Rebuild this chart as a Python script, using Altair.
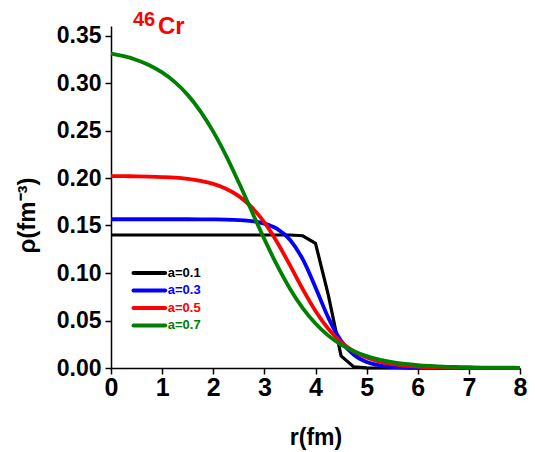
import altair as alt
import pandas as pd

# ---- data ----
r = [0.0, 0.25, 0.5, 0.75, 1.0, 1.25, 1.5, 1.75, 2.0, 2.25, 2.5, 2.75, 3.0, 3.25, 3.5, 3.75,
     4.0, 4.25, 4.5, 4.75, 5.0, 5.25, 5.5, 5.75, 6.0, 6.25, 6.5, 6.75, 7.0, 7.25, 7.5, 7.75, 8.0]

rho_a01 = [0.140, 0.140, 0.140, 0.140, 0.140, 0.140, 0.140, 0.140, 0.140, 0.140, 0.140, 0.140,
           0.140, 0.140, 0.140, 0.1392, 0.1312, 0.0770, 0.0128, 0.0012, 0.0001,
           0, 0, 0, 0, 0, 0, 0, 0, 0, 0, 0, 0]
rho_a03 = [0.1566, 0.1566, 0.1566, 0.1566, 0.1566, 0.1566, 0.1566, 0.1565, 0.1564, 0.1562,
           0.1557, 0.1546, 0.1520, 0.1464, 0.1350, 0.1145, 0.0848, 0.0531, 0.0286, 0.0139,
           0.0063, 0.0028, 0.0012, 0.0005, 0.0002, 0.0001, 0, 0, 0, 0, 0, 0, 0]
rho_a05 = [0.2020, 0.2019, 0.2018, 0.2015, 0.2010, 0.2003, 0.1990, 0.1970, 0.1938, 0.1887,
           0.1809, 0.1693, 0.1532, 0.1324, 0.1082, 0.0831, 0.0601, 0.0413, 0.0272, 0.0175,
           0.0110, 0.0068, 0.0042, 0.0026, 0.0016, 0.0010, 0.0006, 0.0004, 0.0002, 0.0001,
           0.0001, 0.0001, 0.0000]
rho_a07 = [0.3310, 0.3282, 0.3242, 0.3187, 0.3111, 0.3009, 0.2875, 0.2702, 0.2488, 0.2236,
           0.1952, 0.1653, 0.1356, 0.1079, 0.0835, 0.0631, 0.0468, 0.0341, 0.0246, 0.0176,
           0.0125, 0.0089, 0.0063, 0.0044, 0.0031, 0.0022, 0.0015, 0.0011, 0.0008, 0.0005,
           0.0004, 0.0003, 0.0002]

series_labels = ["a=0.1", "a=0.3", "a=0.5", "a=0.7"]
series_colors = ["#000000", "#0000ff", "#ff0000", "#008000"]
x_ticks = [0, 0.5, 1, 1.5, 2, 2.5, 3, 3.5, 4, 4.5, 5, 5.5, 6, 6.5, 7, 7.5, 8]
y_ticks = [0.0, 0.025, 0.05, 0.075, 0.1, 0.125, 0.15, 0.175, 0.2, 0.225, 0.25, 0.275,
           0.3, 0.325, 0.35]

rows = []
for lab, vals in zip(series_labels, [rho_a01, rho_a03, rho_a05, rho_a07]):
    for ri, v in zip(r, vals):
        rows.append({"r": ri, "rho": v, "series": lab})
df = pd.DataFrame(rows)

FONT = "Liberation Sans"

x_scale = alt.Scale(domain=[0, 8], nice=False, zero=False)
y_scale = alt.Scale(domain=[0, 0.36], nice=False)
color_scale = alt.Scale(domain=series_labels, range=series_colors)

x_axis = alt.Axis(
    values=x_ticks, title="r(fm)", grid=False,
    labelExpr="datum.value % 1 == 0 ? datum.label : ''",
    tickSize={"condition": {"test": "datum.value % 1 == 0", "value": 6}, "value": 3},
    labelFont=FONT, labelFontSize=25, labelFontWeight="bold", labelColor="black",
    labelPadding=1, labelOverlap=False, labelFlush=False,
    titleFont=FONT, titleFontSize=23, titleFontWeight="bold", titleColor="black",
    titlePadding=26, domainColor="black", domainWidth=1.5, tickColor="black", tickWidth=1.5,
)
y_axis = alt.Axis(
    values=y_ticks, title="ρ(fm⁻³)", grid=False, format=".2f",
    labelExpr="abs(datum.value*20 - round(datum.value*20)) < 0.001 ? datum.label : ''",
    tickSize={"condition": {"test": "abs(datum.value*20 - round(datum.value*20)) < 0.001",
                            "value": 6}, "value": 3},
    labelFont=FONT, labelFontSize=23, labelFontWeight="bold", labelColor="black",
    labelPadding=4, labelOverlap=False, labelFlush=False,
    titleFont=FONT, titleFontSize=24, titleFontWeight="bold", titleColor="black",
    titleX=-84, titleY=189, titleBaseline="middle", titleAngle=270,
    domainColor="black", domainWidth=1.5, tickColor="black", tickWidth=1.5,
)

base = alt.Chart(df).encode(
    x=alt.X("r:Q", scale=x_scale, axis=x_axis),
    y=alt.Y("rho:Q", scale=y_scale, axis=y_axis),
    color=alt.Color("series:N", scale=color_scale, legend=None),
    detail="series:N",
)
black_line = base.transform_filter("datum.series == 'a=0.1'").mark_line(
    strokeWidth=3.2, interpolate="linear", strokeJoin="miter")
smooth_lines = base.transform_filter("datum.series != 'a=0.1'").mark_line(
    strokeWidth=3.8, interpolate="monotone")

# legend drawn inside the plot
leg = pd.DataFrame({"series": series_labels})
leg["ly"] = [0.100 - i * 0.0184 for i in range(len(series_labels))]
leg["lx1"] = 0.44
leg["lx2"] = 1.06
leg["tx"] = 1.11
leg_lines = alt.Chart(leg).mark_rule(strokeWidth=4, strokeCap="round").encode(
    x=alt.X("lx1:Q", scale=x_scale), x2="lx2:Q",
    y=alt.Y("ly:Q", scale=y_scale),
    color=alt.Color("series:N", scale=color_scale, legend=None),
)
leg_text = alt.Chart(leg).mark_text(
    align="left", baseline="middle", font=FONT, fontSize=13, fontWeight="bold"
).encode(
    x=alt.X("tx:Q", scale=x_scale), y=alt.Y("ly:Q", scale=y_scale), text="series:N",
    color=alt.Color("series:N", scale=color_scale, legend=None),
)

# title "46Cr"
t46 = alt.Chart(pd.DataFrame({"t": ["46"]})).mark_text(
    align="left", baseline="alphabetic", font=FONT, fontSize=20, fontWeight="bold",
    color="#ff0000").encode(x=alt.value(22), y=alt.value(0), text="t:N")
tcr = alt.Chart(pd.DataFrame({"t": ["Cr"]})).mark_text(
    align="left", baseline="alphabetic", font=FONT, fontSize=24, fontWeight="bold",
    color="#ff0000").encode(x=alt.value(47), y=alt.value(8), text="t:N")

chart = alt.layer(black_line, smooth_lines, leg_lines, leg_text, t46, tcr).properties(
    width=409, height=342,
    autosize=alt.AutoSizeParams(type="none"),
    padding={"left": 103, "top": 18, "right": 8, "bottom": 84},
    background="white",
).configure_view(stroke=None)

chart.save("out.html", embed_options={"renderer": "svg", "actions": False})
